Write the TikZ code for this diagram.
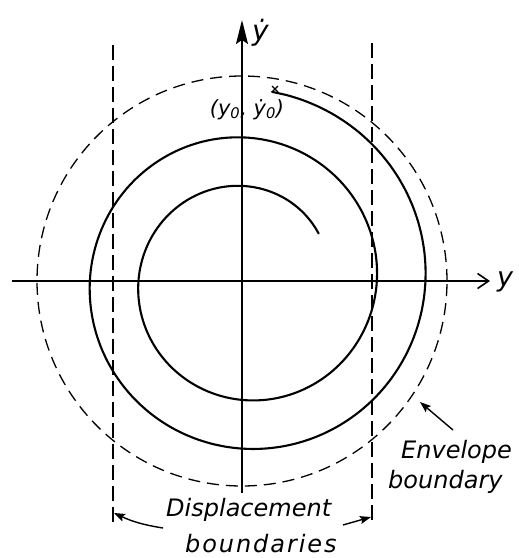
\documentclass[tikz,border=0pt]{standalone}
\usepackage{fontspec}
\setmainfont{DejaVu Sans}
\usetikzlibrary{arrows.meta}
\newfontfamily\hand{DejaVu Sans}
\tikzset{
  envline/.style={line width=1.3pt, dash pattern=on 12pt off 7pt},
  bndline/.style={line width=1.4pt, dash pattern=on 15pt off 6pt},
  axisline/.style={line width=1.6pt},
  trajline/.style={line width=2.1pt, line join=round, line cap=round},
  lbl/.style={inner sep=0pt, font=\hand\itshape\fontsize{24}{26}\selectfont},
  ptr/.style={line width=1.4pt, -{Stealth[length=11pt,width=8pt,inset=2pt]}}
}
\begin{document}
\begin{tikzpicture}[x=1pt,y=-1pt]
\useasboundingbox (0,0) rectangle (519,558);
\fill[white] (0,0) rectangle (519,558);
\coordinate (O) at (242,281);
% envelope circle
\draw[envline] (O) circle[radius=205pt];
% displacement boundaries
\coordinate (LT) at (113,45);
\coordinate (LB) at (113,522);
\coordinate (RT) at (372,43);
\coordinate (RB) at (372,522);
\draw[bndline] (LT) -- (LB);
\draw[bndline] (RT) -- (RB);
% axes
\coordinate (XL) at (12,281);
\coordinate (XR) at (490,281);
\coordinate (YB) at (242,493);
\coordinate (YT) at (242,20);
\draw[axisline, -{Straight Barb[length=11pt,width=15pt,line width=1.6pt]}] (XL) -- (XR);
\draw[axisline, -{Stealth[length=24pt,width=12pt,inset=4pt]}] (YB) -- (YT);
\node[lbl, font=\hand\itshape\fontsize{27}{30}\selectfont, anchor=base west] (ylab) at (497,286) {y};
\node[lbl, font=\hand\itshape\fontsize{28}{30}\selectfont, anchor=base west] (ydlab) at (252,40) {ẏ};
% trajectory (clockwise spiral)
\draw[trajline] plot[smooth, domain=8:777, samples=160, variable=\t]
  ({245.5 + (192.1-0.135*\t)*sin(\t)}, {281 - (192.1-0.135*\t)*cos(\t)});
% start mark
\coordinate (S) at (275,89);
\draw[line width=1.1pt] ([shift={(-3,-3)}]S) -- ([shift={(3,3)}]S) ([shift={(-3,3)}]S) -- ([shift={(3,-3)}]S);
\node[lbl, font=\hand\itshape\fontsize{21}{23}\selectfont, anchor=base] (start) at (247,115) {(y\textsubscript{0}, ẏ\textsubscript{0})};
% envelope label
\node[lbl, anchor=base west] (env1) at (401,458) {Envelope};
\node[lbl, anchor=base west] (env2) at (388,488) {boundary};
\coordinate (EA) at (453,430);
\coordinate (EB) at (420,402);
\draw[ptr] (EA) -- (EB);
% displacement label
\node[lbl, anchor=base west] (dis1) at (166,516) {Displacement};
\node[lbl, anchor=base west, font=\hand\itshape\fontsize{24}{26}\selectfont\addfontfeatures{LetterSpace=8}] (dis2) at (185,552) {boundaries};
\coordinate (DA) at (163,528);
\coordinate (DB) at (114,513);
\coordinate (DC) at (343,525);
\coordinate (DD) at (371,517);
\draw[ptr] (DA) to[bend left=8] (DB);
\draw[ptr] (DC) -- (DD);
\end{tikzpicture}
\end{document}
